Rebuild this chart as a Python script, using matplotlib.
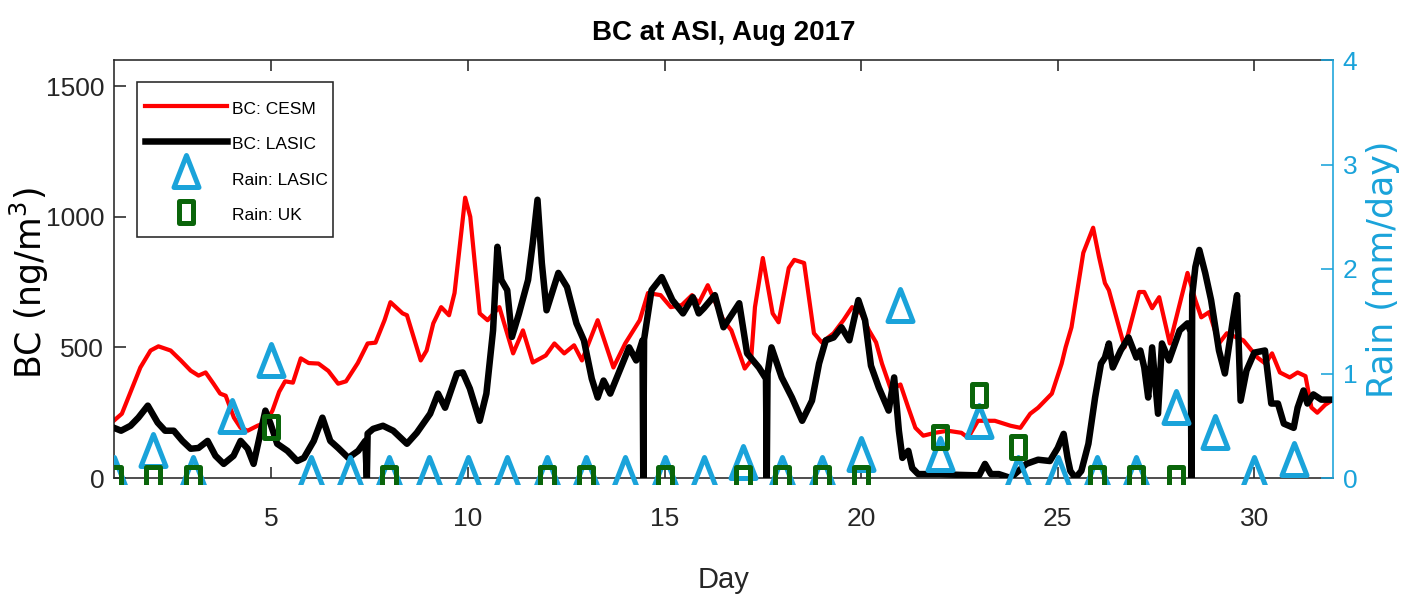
import matplotlib
matplotlib.use("Agg")
import matplotlib.pyplot as plt
from matplotlib.path import Path
from matplotlib.patches import Rectangle
from matplotlib import font_manager

# ---------------- data ----------------
cesm_day = [1.00, 1.20, 1.67, 1.93, 2.13, 2.44, 2.70, 2.95, 3.15, 3.33, 3.53, 3.70, 3.84,
            4.05, 4.22, 4.40, 4.65, 4.86, 5.03, 5.20, 5.35, 5.55, 5.75, 5.95, 6.20, 6.45,
            6.70, 6.90, 7.20, 7.45, 7.65, 7.88, 8.03, 8.34, 8.45, 8.80, 8.95, 9.12, 9.32,
            9.52, 9.66, 9.93, 10.06, 10.30, 10.50, 10.80, 11.15, 11.40, 11.65, 11.98, 12.20,
            12.45, 12.70, 12.90, 13.30, 13.70, 14.00, 14.37, 14.58, 14.90, 15.16, 15.44,
            15.70, 15.87, 16.10, 16.30, 16.50, 16.70, 17.04, 17.20, 17.30, 17.50, 17.75,
            17.90, 18.16, 18.30, 18.55, 18.80, 19.00, 19.30, 19.55, 19.77, 20.00, 20.20,
            20.38, 20.53, 20.76, 21.00, 21.20, 21.38, 21.58, 21.88, 22.20, 22.55, 22.72,
            22.97, 23.40, 23.80, 24.05, 24.30, 24.50, 24.85, 25.10, 25.20, 25.35, 25.65,
            25.90, 26.05, 26.20, 26.30, 26.60, 26.70, 27.07, 27.20, 27.40, 27.58, 27.85,
            28.30, 28.50, 28.65, 28.85, 29.10, 29.30, 29.72, 30.08, 30.28, 30.45, 30.65,
            30.90, 31.10, 31.30, 31.45, 31.60, 31.80, 32.00]
cesm_bc = [220, 246, 423, 488, 504, 488, 450, 411, 392, 404, 361, 323, 315,
           231, 192, 181, 200, 212, 258, 330, 370, 365, 458, 440, 438, 410,
           361, 370, 440, 515, 518, 604, 673, 630, 623, 450, 488, 592, 654,
           623, 708, 1073, 1000, 630, 604, 654, 477, 565, 442, 469, 515,
           477, 508, 450, 604, 423, 515, 604, 708, 700, 654, 662,
           700, 669, 738, 669, 604, 565, 419, 450, 654, 842, 630,
           596, 804, 835, 823, 554, 519, 554, 604, 654, 630, 565,
           519, 438, 338, 358, 269, 192, 162, 173, 181, 173, 154,
           219, 219, 200, 192, 246, 269, 323, 438, 500, 577, 862,
           958, 846, 746, 719, 554, 500, 712, 712, 650, 692, 515,
           785, 681, 615, 635, 515, 554, 527, 461, 438, 477, 404,
           385, 404, 390, 270, 250, 280, 300]

lasic_day = [1.00, 1.18, 1.42, 1.62, 1.86, 1.98, 2.11, 2.30, 2.52, 2.74, 2.95, 3.15, 3.38,
             3.58, 3.79, 4.04, 4.22, 4.40, 4.55, 4.72, 4.85, 4.98, 5.15, 5.41, 5.66, 5.83,
             6.08, 6.30, 6.50, 6.70, 6.96, 7.21, 7.39, 7.43, 7.45, 7.59, 7.84, 8.10, 8.45,
             8.70, 9.04, 9.24, 9.42, 9.72, 9.87, 10.05, 10.30, 10.47, 10.64, 10.75, 10.85,
             11.00, 11.12, 11.30, 11.53, 11.65, 11.77, 11.88, 12.00, 12.30, 12.52, 12.76,
             12.95, 13.15, 13.30, 13.45, 13.62, 13.86, 14.10, 14.28, 14.44, 14.46, 14.48,
             14.67, 14.93, 15.20, 15.47, 15.72, 15.87, 16.00, 16.28, 16.50, 16.90, 17.10,
             17.40, 17.58, 17.60, 17.62, 17.72, 17.98, 18.24, 18.50, 18.75, 18.93, 19.10,
             19.30, 19.50, 19.70, 19.93, 20.10, 20.25, 20.45, 20.70, 20.84, 20.96, 21.05,
             21.20, 21.30, 21.45, 22.00, 22.50, 23.00, 23.15, 23.30, 23.50, 23.80, 24.20,
             24.50, 24.80, 25.00, 25.15, 25.25, 25.32, 25.45, 25.60, 25.78, 25.95, 26.10,
             26.20, 26.30, 26.40, 26.60, 26.80, 27.00, 27.10, 27.20, 27.30, 27.40, 27.55,
             27.65, 27.83, 28.10, 28.30, 28.38, 28.40, 28.42, 28.50, 28.60, 28.75, 28.90,
             29.10, 29.25, 29.45, 29.56, 29.65, 29.80, 30.00, 30.27, 30.43, 30.60, 30.75,
             31.00, 31.10, 31.25, 31.35, 31.50, 31.70, 32.00]
lasic_bc = [192, 181, 200, 231, 277, 246, 212, 181, 181, 142, 112, 115, 142,
            85, 54, 85, 142, 112, 54, 169, 258, 208, 131, 104, 65, 77,
            142, 231, 142, 115, 77, 104, 142, 0, 170, 188, 200, 181, 131,
            173, 246, 323, 269, 400, 404, 342, 219, 323, 565, 885, 758,
            719, 540, 630, 758, 900, 1065, 823, 642, 785, 731, 592,
            527, 380, 308, 373, 323, 411, 500, 450, 527, 0, 530,
            719, 769, 681, 630, 692, 630, 650, 700, 577, 669, 477,
            423, 380, 0, 400, 500, 385, 308, 219, 296, 438, 527,
            538, 577, 527, 681, 604, 430, 346, 258, 385, 181, 77,
            104, 38, 15, 15, 12, 10, 54, 15, 15, 0, 54,
            70, 65, 115, 169, 77, 27, 0, 27, 131, 308, 438,
            461, 515, 423, 488, 538, 461, 488, 423, 308, 500, 246,
            515, 450, 565, 592, 560, 0, 700, 808, 873, 785, 681,
            488, 400, 600, 700, 296, 411, 480, 488, 285, 285, 208,
            192, 269, 335, 285, 320, 300, 300]

rain_lasic_day = list(range(1, 32))
rain_lasic = [0, 0.22, 0, 0.55, 1.08, 0, 0, 0, 0, 0, 0, 0, 0, 0, 0, 0,
              0.11, 0, 0, 0.18, 1.61, 0.18, 0.50, 0, 0, 0, 0, 0.63, 0.39, 0, 0.13]

rain_uk_day = [1, 2, 3, 5, 8, 12, 13, 15, 17, 18, 19, 20, 22, 23, 24, 26, 27, 28]
rain_uk = [0, 0, 0, 0.49, 0, 0, 0, 0, 0, 0, 0, 0, 0.39, 0.79, 0.30, 0, 0, 0]

xticks = [5, 10, 15, 20, 25, 30]
bc_ticks = [0, 500, 1000, 1500]
rain_ticks = [0, 1, 2, 3, 4]

# ---------------- style ----------------
DPI = 100
W, H = 1402, 599
names = {f.name for f in font_manager.fontManager.ttflist}
narrow = "Liberation Sans Narrow" if "Liberation Sans Narrow" in names else "Liberation Sans"
wide = "DejaVu Sans"
plt.rcParams["font.family"] = [narrow, "DejaVu Sans"]
plt.rcParams["mathtext.fontset"] = "dejavusans"

RED = "#FF0000"
BLUE = "#1AA3DA"
GREEN = "#0A650A"
DARK = "#262626"


def pt(px):
    return px * 72.0 / DPI


# custom markers (tall, like the reference)
tri_path = Path([(0, 21), (-12.5, -11), (12.5, -11), (0, 21)],
                [Path.MOVETO, Path.LINETO, Path.LINETO, Path.CLOSEPOLY])
tri_ms = pt(2 * 21)
sq_path = Path([(-6.75, -11.25), (6.75, -11.25), (6.75, 11.25), (-6.75, 11.25), (-6.75, -11.25)],
               [Path.MOVETO, Path.LINETO, Path.LINETO, Path.LINETO, Path.CLOSEPOLY])
sq_ms = pt(2 * 11.25)
mew = pt(5.0)

fig = plt.figure(figsize=(W / DPI, H / DPI), dpi=DPI)
L, R, T, B = 114, 1333, 60, 478
AW, AH = R - L, B - T
ax = fig.add_axes([L / W, 1 - B / H, AW / W, AH / H])
ax2 = ax.twinx()

l1, = ax.plot(cesm_day, cesm_bc, color=RED, lw=pt(4.2), solid_joinstyle="round", zorder=2)
l2, = ax.plot(lasic_day, lasic_bc, color="black", lw=pt(6.5), solid_joinstyle="round", zorder=3)
ax.set_xlim(1, 32)
ax.set_ylim(0, 1600)
ax.set_xticks(xticks)
ax.set_yticks(bc_ticks)

m1, = ax2.plot(rain_lasic_day, rain_lasic, ls="none", marker=tri_path, ms=tri_ms,
               mfc="none", mec=BLUE, mew=mew, zorder=3)
m2, = ax2.plot(rain_uk_day, rain_uk, ls="none", marker=sq_path, ms=sq_ms,
               mfc="none", mec=GREEN, mew=mew, zorder=4)
clip = Rectangle((0, -6.0 / AH), 1, 1.2, transform=ax2.transAxes)
m1.set_clip_path(clip)
m2.set_clip_path(clip)
ax2.set_ylim(0, 4)
ax2.set_yticks(rain_ticks)

# spines / ticks
for s in ["left", "bottom", "top"]:
    ax.spines[s].set_color(DARK)
    ax.spines[s].set_linewidth(pt(1.6))
ax.spines["right"].set_visible(False)
for s in ["left", "bottom", "top"]:
    ax2.spines[s].set_visible(False)
ax2.spines["right"].set_color(BLUE)
ax2.spines["right"].set_linewidth(pt(1.6))

ax.tick_params(axis="x", direction="in", top=True, length=pt(11), width=pt(1.6),
               colors=DARK, labelsize=19, pad=21)
ax.tick_params(axis="y", direction="in", left=True, right=False, length=pt(12),
               width=pt(1.6), colors=DARK, labelsize=19, pad=7)
ax2.tick_params(axis="y", direction="in", length=pt(12), width=pt(1.6),
                colors=BLUE, labelsize=19, pad=7)

ax.set_title("BC at ASI, Aug 2017", fontsize=20, fontweight="bold", pad=14.5, color="black")
ax.set_xlabel("Day", fontsize=21, labelpad=25, color=DARK)
ax.set_ylabel("BC (ng/m$^3$)", fontsize=25, family=wide, color="black")
ax.yaxis.set_label_coords((51 - L) / AW, 0.465)
ax2.set_ylabel("Rain (mm/day)", fontsize=25, family=wide, labelpad=6, color=BLUE)

# legend: frame drawn as its own rectangle, entries placed inside it
frame = Rectangle(((137 - L) / AW, (B - 237) / AH), 196 / AW, 155 / AH,
                  transform=ax2.transAxes, facecolor="white", edgecolor=DARK,
                  lw=pt(1.6), zorder=8)
ax2.add_patch(frame)
leg = ax2.legend([l1, l2, m1, m2], ["BC: CESM", "BC: LASIC", "Rain: LASIC", "Rain: UK"],
                 loc="upper left", bbox_to_anchor=((145 - L) / AW, (B - 97) / AH),
                 fontsize=12.5, frameon=False, handlelength=4.7, handleheight=1.65,
                 handletextpad=0.3, labelspacing=0.72, borderpad=0, borderaxespad=0,
                 numpoints=1)
leg.set_zorder(9)

fig.savefig("out.png", dpi=DPI)
